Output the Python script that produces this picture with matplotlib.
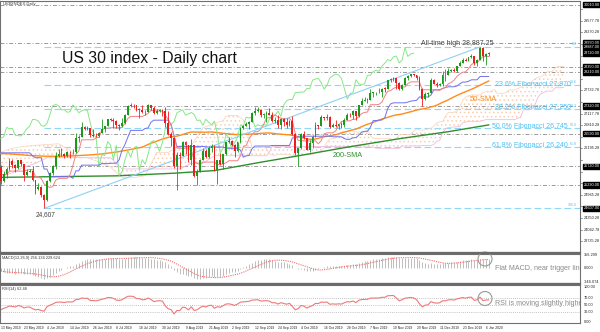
import numpy as np
import pandas as pd
import matplotlib
matplotlib.use("Agg")
import matplotlib.pyplot as plt
from matplotlib.patches import Circle
from matplotlib.lines import Line2D
from matplotlib.transforms import blended_transform_factory, IdentityTransform

plt.rcParams['font.family'] = ['Liberation Sans', 'DejaVu Sans']
plt.rcParams['hatch.linewidth'] = 0.6

# ---------------- data ----------------
dates = pd.bdate_range("2019-05-13", "2020-01-07")
dates = dates[~dates.isin(pd.to_datetime(["2019-12-25", "2020-01-01"]))]

opens = [25700,25324,25532,25648,25862,25764,25679,25877,25776,25490,
 25585,25600,25347,25126,25169,24950,24820,25332,25539,25720,
 25983,26062,26048,26004,26106,26090,26112,26465,26504,26753,
 26719,26727,26548,26536,26527,26600,26717,26787,26966,26960,
 26922,26806,26783,26860,27088,27332,27359,27336,27219,27223,
 27154,27172,27350,27270,27141,27192,27221,27198,26864,26583,
 26485,25718,26030,26008,26379,26287,25897,26280,25479,25579,
 25886,26136,25962,26203,26253,25629,25899,25778,26036,26363,
 26403,26300,26118,26356,26728,26797,26835,26909,27137,27182,
 27220,27076,27111,27147,27094,26935,26949,26808,26970,26891,
 26820,26917,26573,26078,26201,26573,26478,26164,26346,26497,
 26816,26787,27024,27001,27026,26770,26827,26788,26833,26806,
 26958,27091,27071,27186,27046,27347,27462,27492,27492,27675,
 27681,27691,27691,27784,27782,28005,28036,28053,27934,27767,
 27876,28066,28121,28164,28140,28051,27783,27503,27649,27677,
 28015,27909,27881,27911,28132,28135,28235,28267,28239,28376,
 28455,28551,28515,28621,28645,28462,28538,28868,28634,28703]
highs = [25760,25600,25700,25940,25920,25790,25900,25900,25790,25660,
 25640,25720,25360,25280,25200,25000,25350,25560,25760,26100,
 26180,26200,26080,26130,26120,26190,26600,26560,26900,26800,
 26780,26740,26700,26600,26620,26980,26800,26980,27000,26990,
 26940,26850,27010,27120,27340,27400,27380,27350,27260,27340,
 27220,27370,27360,27310,27240,27240,27230,27300,27200,26620,
 26490,26100,26100,26400,26390,26300,26450,26290,25640,25920,
 26200,26170,26250,26320,26300,25900,26070,26060,26380,26490,
 26420,26320,26380,26760,26830,26900,26920,27150,27300,27300,
 27230,27130,27200,27270,27170,27040,27080,27000,27000,27010,
 26950,27050,26600,26220,26600,26650,26480,26430,26550,26900,
 26820,27070,27030,27120,27050,26870,26950,26850,26900,27000,
 27130,27140,27220,27190,27360,27520,27560,27520,27770,27700,
 27700,27790,27800,27820,28010,28050,28090,28060,27960,27900,
 28080,28130,28180,28170,28150,28110,27790,27700,27700,28050,
 28030,27960,27930,28250,28300,28340,28300,28330,28380,28500,
 28590,28580,28630,28710,28650,28560,28887,28880,28720,28760]
lows = [25250,25300,25420,25620,25680,25560,25660,25740,25330,25470,
 25560,25330,24990,25090,24900,24607,24800,25300,25480,25650,
 25960,25990,25950,25980,25950,26050,26080,26380,26490,26680,
 26680,26500,26500,26490,26500,26600,26640,26780,26920,26730,
 26740,26690,26760,26850,27070,27300,27280,27200,27000,27130,
 27090,27150,27220,27100,27120,27150,27050,26770,26550,26250,
 25680,25100,25650,25990,26060,25840,25770,25440,25220,25560,
 25880,25950,25950,26100,25600,25250,25750,25650,26020,26330,
 26250,25980,26100,26340,26700,26780,26720,26900,27090,27150,
 27020,27000,26900,27080,26900,26880,26750,26700,26800,26750,
 26800,26560,26020,25740,26180,26450,26150,26100,26200,26490,
 26700,26780,26950,26950,26730,26760,26770,26720,26740,26760,
 26950,27040,26980,26940,27040,27340,27450,27410,27480,27550,
 27600,27660,27560,27700,27780,27960,27980,27780,27740,27750,
 27870,28000,28100,28120,28000,27740,27320,27480,27550,27670,
 27900,27830,27840,27860,27990,28130,28210,28220,28220,28370,
 28450,28500,28510,28590,28420,28380,28530,28500,28420,28640]
closes = [25324,25532,25648,25862,25764,25679,25877,25776,25490,25585,
 25600,25347,25126,25169,24950,24820,25332,25539,25720,25983,
 26062,26048,26004,26106,26090,26112,26465,26504,26753,26719,
 26727,26548,26536,26527,26600,26717,26787,26966,26960,26922,
 26806,26783,26860,27088,27332,27359,27336,27219,27223,27154,
 27172,27350,27270,27141,27192,27221,27198,26864,26583,26485,
 25718,26030,26008,26379,26287,25897,26280,25479,25579,25886,
 26136,25962,26203,26253,25629,25899,25778,26036,26363,26403,
 26300,26118,26356,26728,26797,26835,26909,27137,27182,27220,
 27076,27111,27147,27094,26935,26949,26808,26970,26891,26820,
 26917,26573,26078,26201,26573,26478,26164,26346,26497,26816,
 26787,27024,27001,27026,26770,26827,26788,26833,26806,26958,
 27091,27071,27186,27046,27347,27462,27492,27492,27675,27681,
 27691,27691,27784,27782,28005,28036,28053,27934,27767,27876,
 28066,28121,28164,28140,28051,27783,27503,27649,27677,28015,
 27909,27881,27911,28132,28135,28235,28267,28239,28376,28455,
 28551,28515,28621,28645,28462,28538,28868,28634,28703,28720]

# Ichimoku kijun for first bars (window reaches before the visible range)
kijun_head = [26080,26080,26080,26080,26080,26080,26080,26080,26080,26080,
              26080,26000,25950,25950,25950,25650,25650,25450,25450,25450,
              25450,25450,25450,25450,25450]
cloud_head_bar = [0,4,8,12,16,20,24,26,30,34,38,42,46,50,54,58,62,66,70,74,77]
span_a_head = [26100,26200,26250,26280,26300,26320,26150,25965,25950,25840,25700,
               25420,25420,25475,26090,26090,26264,26274,26743,26860,26933]
span_b_head = [25450,25550,25700,25800,25950,25950,25950,25950,25950,25950,25950,
               25653,25653,25653,25653,25653,25653,25803,25803,26003,26003]
sma50_head_bar = [0,5,10,15,20,25,30,35,40,45,49]
sma50_head = [26065,26040,26010,25990,25990,26000,26020,26050,26100,26170,26229]
sma200_bar = [0,20,40,60,74,90,103,120,138,155,169]
sma200_val = [25430,25450,25470,25540,25610,25830,26000,26230,26454,26640,26820]

macd_seed = (26230, 26220)       # EMA12, EMA26 before first bar
rsi_seed = (25942, 80.0, 98.0)   # previous close, avg gain, avg loss

fib_levels = [28887, 27870, 27250, 26745, 26240, 24607]
fib_names = ["0.0", "23.6", "38.2", "50.0", "61.8", "100.0"]
fib_labels = {27870: "23.6% Fibonacci 27,870", 27250: "38.2% Fibonacci 27,250",
              26745: "50.0% Fibonacci 26,745", 26240: "61.8% Fibonacci 26,240"}
gray_levels = [30010, 28990, 28350, 28210, 27320, 26590, 25720, 25230]
price_ticks = [29885.28 - 307.5*k for k in range(21)]
trend_bars = [15, 166]
trend_vals = [24607, 28887]

# ---------------- derived indicators ----------------
o = np.array(opens, float); h = np.array(highs, float)
l = np.array(lows, float); c = np.array(closes, float)
n = len(c); idx = np.arange(n)
hs, ls = pd.Series(h), pd.Series(l)
tenkan = ((hs.rolling(9, min_periods=1).max() + ls.rolling(9, min_periods=1).min()) / 2).to_numpy()
kijun = ((hs.rolling(26).max() + ls.rolling(26).min()) / 2).to_numpy()
kijun[:25] = kijun_head
spanb = ((hs.rolling(52).max() + ls.rolling(52).min()) / 2).to_numpy()
A2 = ((tenkan + kijun) / 2)[51:]
B2 = spanb[51:]
x2 = idx[51:] + 26
sma50 = pd.Series(c).rolling(50).mean().to_numpy()

e12, e26 = macd_seed
macd = np.zeros(n)
for i in range(n):
    e12 += (c[i] - e12) * 2 / 13
    e26 += (c[i] - e26) * 2 / 27
    macd[i] = e12 - e26
signal = pd.Series(macd).rolling(9, min_periods=1).mean().to_numpy()

pc, ag, al = rsi_seed
rsi = np.zeros(n)
for i in range(n):
    d = c[i] - pc
    ag = (ag * 13 + max(d, 0)) / 14
    al = (al * 13 + max(-d, 0)) / 14
    rsi[i] = 100 - 100 / (1 + ag / al)
    pc = c[i]

# ---------------- figure ----------------
W, H = 600, 332
fig = plt.figure(figsize=(W / 100, H / 100), dpi=100)
fig.patch.set_facecolor('white')

def rect(x0, y0, x1, y1):
    return [x0 / W, 1 - y1 / H, (x1 - x0) / W, (y1 - y0) / H]

ax = fig.add_axes(rect(0, 1, 580, 252))
axm = fig.add_axes(rect(0, 254, 580, 283))
axr = fig.add_axes(rect(0, 285, 580, 323))
XL = (-0.8 / 2.887, 579.2 / 2.887)
for a in (ax, axm, axr):
    a.set_xlim(*XL)
    a.set_xticks([]); a.set_yticks([])
    for s in a.spines.values():
        s.set_color('#707070'); s.set_linewidth(0.8)
ax.set_ylim(23452, 30103)
axm.set_ylim(-382, 372)
axr.set_ylim(-2, 106.6)

# horizontal reference lines
for lv in gray_levels:
    ax.axhline(lv, color='#9a9a9a', lw=0.7, dashes=(4, 2, 1, 2), zorder=1)
xf0 = 15
for lv, nm in zip(fib_levels, fib_names):
    ax.plot([xf0, XL[1]], [lv, lv], color='#8fd6f7', lw=0.8, dashes=(6, 3), zorder=1)
    ax.text(199.5, lv + 25, nm, color='#5bbfee', fontsize=2.6, ha='right', va='bottom', zorder=6)

# Ichimoku cloud
def cloud(xs, a_, b_):
    xs = np.asarray(xs, float); a_ = np.asarray(a_, float); b_ = np.asarray(b_, float)
    ax.fill_between(xs, a_, b_, where=a_ >= b_, interpolate=True, facecolor='none',
                    edgecolor='#f8cfb4', hatch='....', linewidth=0, zorder=1)
    ax.fill_between(xs, a_, b_, where=a_ < b_, interpolate=True, facecolor='none',
                    edgecolor='#f2c8e2', hatch='....', linewidth=0, zorder=1)
    ax.plot(xs, a_, color='#f8d2b8', lw=0.5, zorder=1)
    ax.plot(xs, b_, color='#f0bedc', lw=0.6, zorder=1)
cloud(cloud_head_bar, span_a_head, span_b_head)
cloud(x2, A2, B2)

# moving averages and ichimoku lines
ax.plot(sma200_bar, sma200_val, color='#2f8f2f', lw=1.0, zorder=3)
ax.plot(sma50_head_bar, sma50_head, color='#ff8c1a', lw=1.0, zorder=3)
ax.plot(idx[49:], sma50[49:], color='#ff8c1a', lw=1.0, zorder=3)
ax.plot(idx[26:] - 26, c[26:], color='#86e886', lw=0.7, zorder=3)
ax.plot(idx, kijun, color='#7070ee', lw=0.7, zorder=3)
ax.plot(idx, tenkan, color='#f48080', lw=0.7, zorder=3)
ax.plot(trend_bars, trend_vals, color='#8fd0f5', lw=0.8, zorder=3)

# candles
up = c >= o
cols = np.where(up, '#1a9a1a', '#ee1c1c')
ax.vlines(idx, l, h, colors=cols, lw=0.6, zorder=4)
body = np.maximum(np.abs(c - o), 12)
ax.bar(idx, body, bottom=np.minimum(o, c), width=0.62, color=cols, linewidth=0, zorder=5)

# texts in main panel
ax.text(21.2, 28580, "US 30 index - Daily chart", fontsize=11.3, color='#111111', va='center', ha='left')
ax.text(145.5, 28930, "All-time high 28,887.25", fontsize=5.0, color='#444444', va='baseline')
for lv, txt in fib_labels.items():
    xs = 171.2 if lv > 27000 else 170.2
    ax.text(xs, lv + 10, txt, fontsize=5.0, color='#4cc0f2', va='baseline', zorder=6)
ax.text(162.5, 27500, "50-SMA", fontsize=5.5, color='#ff8c1a', va='center')
ax.text(115.0, 26020, "200-SMA", fontsize=5.2, color='#2f8f2f', va='center')
ax.text(12.0, 24530, "24,607", fontsize=4.7, color='#444444', va='top')
ax.text(0.5, 30030, "US30INDEX,Daily", fontsize=3.0, color='#333333', va='center')

# right price axis
tr = blended_transform_factory(ax.transAxes, ax.transData)
box_levels = gray_levels + [28887, 24607, closes[-1]]
for p in price_ticks:
    if 23452 < p < 30103:
        ax.plot([1.0, 1.004], [p, p], transform=tr, color='#707070', lw=0.5, clip_on=False)
        if min(abs(p - b) for b in box_levels) > 170:
            ax.text(1.006, p, f"{p:.2f}", transform=tr, fontsize=2.8, color='#222222', va='center', clip_on=False)
for p in box_levels:
    ax.text(1.006, p, f"{p:.2f}", transform=tr, fontsize=2.8, color='white', va='center', clip_on=False,
            bbox=dict(facecolor='black', edgecolor='black', pad=0.5), zorder=10)

# MACD panel
axm.vlines(idx, 0, macd, colors='#bdbdbd', lw=0.7)
axm.plot(idx, signal, color='#f07070', lw=0.8, ls=(0, (1, 1)))
axm.text(0.5, 330, "MACD(12,26,9) 256.134 229.624", fontsize=2.8, color='#333333', va='top')
axm.text(171.2, 0, "Flat MACD, near trigger line", fontsize=5.1, color='#8a8a8a', va='center', clip_on=True)
trm = blended_transform_factory(axm.transAxes, axm.transData)
for v, s in [(356, "356.299"), (0, "0.000"), (-346, "-346.074")]:
    axm.text(1.006, v, s, transform=trm, fontsize=2.8, color='#222222', va='center', clip_on=False)

# RSI panel
for lv in (70, 50, 30):
    axr.axhline(lv, color='#b0b0b0', lw=0.6, ls=(0, (1, 1.5)))
axr.plot(idx, rsi, color='#f07878', lw=0.8)
axr.text(0.5, 101, "RSI(14) 62.48", fontsize=2.8, color='#333333', va='top')
axr.text(171.2, 53, "RSI is moving slightly higher", fontsize=5.1, color='#8a8a8a', va='center', clip_on=True)
trr = blended_transform_factory(axr.transAxes, axr.transData)
for v in (100, 70, 50, 30, 0):
    axr.text(1.006, v, f"{v:.2f}", transform=trr, fontsize=2.8, color='#222222', va='center', clip_on=False)

# panel separators
for yy in (253, 284):
    fig.add_artist(Line2D([0, 580 / W], [1 - yy / H, 1 - yy / H], color='#6a6a6a', lw=1.6))

# circles
for cx, cy in [(485, 259), (485, 298.5)]:
    fig.add_artist(Circle((cx, H - cy), 7, transform=IdentityTransform(), fill=False,
                          ec='#9a9a9a', lw=0.8))

# date labels
for i in range(0, n, 8):
    x_px = 0.8 + 2.887 * i
    fig.text(x_px / W, 1 - 328 / H, f"{dates[i].day} {dates[i].strftime('%b %Y')}",
             fontsize=2.4, color='#222222', ha='left', va='center')

fig.savefig("out.png", dpi=100)
